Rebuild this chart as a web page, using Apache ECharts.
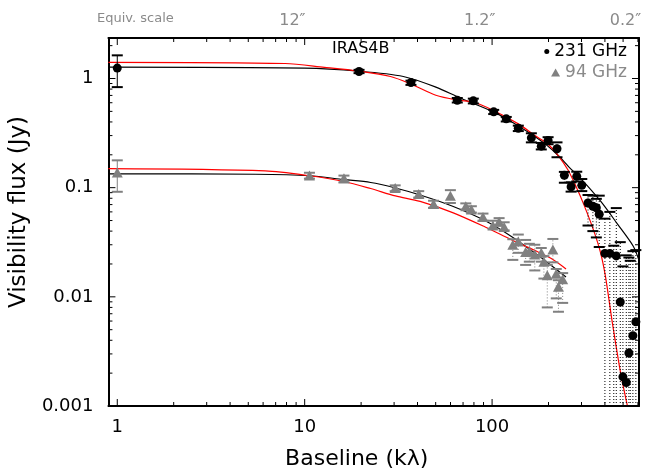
<!DOCTYPE html>
<html><head><meta charset="utf-8">
<script src="https://cdn.jsdelivr.net/npm/echarts@6/dist/echarts.min.js"></script>
<style>html,body{margin:0;padding:0;background:#fff}#c{width:650px;height:475px}</style>
</head><body><div id="c"></div>
<script>
// ---------------- data ----------------
// 231 GHz visibilities (kλ, Jy) with lower / upper error-bar ends (Jy)
const baseline231 = [1, 19.5, 36.9, 65.2, 79.4, 102, 119, 138, 162, 183, 199, 222, 243, 264, 283, 301, 325, 345, 360, 373, 400, 425, 446, 460, 483, 499, 520, 537, 546, 564, 585];
const flux231     = [1.245, 1.16, 0.918, 0.632, 0.624, 0.495, 0.427, 0.350, 0.286, 0.240, 0.271, 0.227, 0.130, 0.102, 0.127, 0.105, 0.0724, 0.0676, 0.0654, 0.0571, 0.0250, 0.0250, -0.005, 0.0237, 0.00897, 0.00185, 0.00164, 0.00306, -0.004, 0.00441, 0.0059];
const lo231       = [0.834, 1.12, 0.874, 0.603, 0.591, 0.4725, 0.404, 0.330, 0.260, 0.224, 0.250, 0.190, 0.111, 0.092, 0.114, 0.093, 0.045, 0.040, 0.035, 0.0286, -0.010, -0.010, -0.035, -0.015, -0.015, -0.015, -0.020, -0.015, -0.030, -0.020, -0.015];
const hi231       = [1.63, 1.20, 0.956, 0.663, 0.654, 0.516, 0.4445, 0.370, 0.315, 0.257, 0.290, 0.260, 0.1395, 0.112, 0.140, 0.120, 0.0857, 0.0845, 0.079, 0.0845, 0.052, 0.060, 0.0294, 0.065, 0.0317, 0.019, 0.024, 0.0229, 0.0214, 0.0262, 0.0268];

// 94 GHz visibilities
const baseline94 = [1, 10.6, 16.2, 30.4, 40.6, 48.7, 59.9, 72.4, 77.5, 89.4, 101, 109, 116, 129, 138, 151, 158, 169, 183, 189, 211, 197, 220, 238, 226];
const flux94     = [0.1376, 0.129, 0.122, 0.0994, 0.0874, 0.0709, 0.0845, 0.0676, 0.0632, 0.054, 0.045, 0.0488, 0.0436, 0.030, 0.0321, 0.0257, 0.0262, 0.0244, 0.0253, 0.021, 0.0271, 0.01576, 0.0163, 0.0145, 0.0124];
const lo94       = [0.0917, 0.121, 0.112, 0.0929, 0.0811, 0.0654, 0.0724, 0.0632, 0.0591, 0.0498, 0.0421, 0.045, 0.0406, 0.0218, 0.0253, 0.0196, 0.021, 0.01745, 0.021, 0.0147, 0.0207, 0.008, 0.00968, 0.0088, 0.0073];
const hi94       = [0.178, 0.137, 0.129, 0.105, 0.0929, 0.0759, 0.0949, 0.0718, 0.0676, 0.0579, 0.0498, 0.0526, 0.0482, 0.0337, 0.0372, 0.0332, 0.0306, 0.030, 0.028, 0.0236, 0.0339, 0.0196, 0.018, 0.0165, 0.0142];

// model curves (black = fit, red = model)
const fitBaseline231   = [0.897, 10, 19.48, 33.6, 50.1, 67.0, 103.7, 138.7, 168.4, 194.8, 225.3, 257.3, 297.6, 379.3, 466.0, 565.7, 608.4];
const fitFlux231       = [1.271, 1.245, 1.167, 1.043, 0.834, 0.667, 0.487, 0.366, 0.296, 0.2465, 0.197, 0.1545, 0.121, 0.0751, 0.0466, 0.0292, 0.0215];
const modelBaseline231 = [0.897, 7.85, 12.74, 19.48, 28.7, 37.0, 50.1, 65.4, 79.4, 102.4, 138.7, 168.4, 199.5, 225.3, 254.2, 280.2, 308.8, 348.5, 379.3, 403, 438.6, 483.4, 526.1];
const modelFlux231     = [1.407, 1.373, 1.266, 1.167, 1.043, 0.887, 0.702, 0.634, 0.609, 0.507, 0.382, 0.302, 0.249, 0.197, 0.1454, 0.1029, 0.0699, 0.0404, 0.0253, 0.01523, 0.00574, 0.00208, 0.00102];
const fitBaseline94    = [0.897, 5.46, 10.6, 16.2, 22.5, 30.5, 41.3, 61.6, 91.9, 127.4, 168.4, 207, 248];
const fitFlux94        = [0.134, 0.1327, 0.1286, 0.1186, 0.1116, 0.0994, 0.0857, 0.0676, 0.0498, 0.0356, 0.0253, 0.0194, 0.0152];
const modelBaseline94  = [0.897, 6.16, 10.6, 16.2, 22.5, 30.5, 41.3, 61.6, 91.9, 127.4, 168.4, 207, 248];
const modelFlux94      = [0.1492, 0.1424, 0.1286, 0.1139, 0.0982, 0.0840, 0.0748, 0.0591, 0.0436, 0.0332, 0.0267, 0.0224, 0.018];

// axes
const xRange = [0.897, 608];
const yRange = [0.001, 2.35];
const xTickValues = [1, 10, 100];
const xTickLabels = ['1', '10', '100'];
const yTickValues = [0.001, 0.01, 0.1, 1];
const yTickLabels = ['0.001', '0.01', '0.1', '1'];
const scaleTickBaselines = [8.6, 86, 515];
const scaleTickLabels = ['12″', '1.2″', '0.2″'];

// ---------------- chart ----------------
const L = Math.log10;
const FONT = 'DejaVu Sans';
const GRAY = '#8a8a8a';
const xMinL = L(xRange[0]), xMaxL = L(xRange[1]);
const yMinL = L(yRange[0]), yMaxL = L(yRange[1]);

function decadeTicks(lo, hi) {
  const out = [];
  for (let e = Math.floor(L(lo)); e <= Math.ceil(L(hi)); e++)
    for (let m = 1; m <= 9; m++) {
      const v = L(m) + e;
      if (v >= L(lo) - 1e-9 && v <= L(hi) + 1e-9) out.push({ v: v, major: m === 1 });
    }
  return out;
}
function nearest(arr, v) {
  let b = 0;
  arr.forEach((a, i) => { if (Math.abs(a - v) < Math.abs(arr[b] - v)) b = i; });
  return b;
}
const xMajor = xTickValues.map(L);
const yMajor = yTickValues.map(L);
const scaleMajor = scaleTickBaselines.map(L);

const lineBlack = { show: true, onZero: false, lineStyle: { color: '#000', width: 2 } };
const noTick = { show: false };
const xBase = { type: 'value', min: xMinL, max: xMaxL, splitLine: { show: false }, axisTick: noTick };
const yBase = { type: 'value', min: yMinL, max: yMaxL, splitLine: { show: false }, axisTick: noTick };

const xAxis = [
  Object.assign({}, xBase, {
    position: 'bottom', axisLine: lineBlack,
    name: 'Baseline (kλ)', nameLocation: 'middle', nameGap: 42,
    nameTextStyle: { fontFamily: FONT, fontSize: 22, color: '#000', padding: [0, 34, 0, 0] },
    axisLabel: { show: true, customValues: xMajor, margin: 12, fontFamily: FONT, fontSize: 18, color: '#000',
      formatter: v => xTickLabels[nearest(xMajor, v)] }
  }),
  Object.assign({}, xBase, {
    position: 'top', axisLine: lineBlack,
    axisLabel: { show: true, customValues: scaleMajor, margin: 9, fontFamily: FONT, fontSize: 16, color: GRAY,
      formatter: v => scaleTickLabels[nearest(scaleMajor, v)] }
  })
];
const yAxis = [
  Object.assign({}, yBase, {
    position: 'left', axisLine: lineBlack,
    name: 'Visibility flux (Jy)', nameLocation: 'middle', nameGap: 68, nameRotate: 90,
    nameTextStyle: { fontFamily: FONT, fontSize: 23, color: '#000', padding: [0, 0, 0, 20] },
    axisLabel: { show: true, customValues: yMajor, margin: 15, fontFamily: FONT, fontSize: 18, color: '#000',
      formatter: v => yTickLabels[nearest(yMajor, v)] }
  }),
  Object.assign({}, yBase, { position: 'right', axisLine: lineBlack, axisLabel: { show: false } })
];

// tick marks on all four sides of the frame, placed through the axes
const tickData = [];
decadeTicks(xRange[0], xRange[1]).forEach(t => tickData.push([t.v, yMinL, 0, t.major ? 1 : 0]));
decadeTicks(yRange[0], yRange[1]).forEach(t => tickData.push([xMinL, t.v, 1, t.major ? 1 : 0]));
const frameTicks = {
  type: 'custom', xAxisIndex: 0, yAxisIndex: 0, z: 6, silent: true,
  encode: { x: 0, y: 1 }, data: tickData,
  renderItem: function (params, api) {
    const isY = api.value(2) === 1, len = api.value(3) === 1 ? 7 : 4;
    const st = { stroke: '#000', lineWidth: 1 };
    if (!isY) {
      const pb = api.coord([api.value(0), yMinL]), pt = api.coord([api.value(0), yMaxL]);
      return { type: 'group', children: [
        { type: 'line', shape: { x1: pb[0], y1: pb[1], x2: pb[0], y2: pb[1] - len }, style: st },
        { type: 'line', shape: { x1: pt[0], y1: pt[1], x2: pt[0], y2: pt[1] + len }, style: st }
      ] };
    }
    const pl = api.coord([xMinL, api.value(1)]), pr = api.coord([xMaxL, api.value(1)]);
    return { type: 'group', children: [
      { type: 'line', shape: { x1: pl[0], y1: pl[1], x2: pl[0] + len, y2: pl[1] }, style: st },
      { type: 'line', shape: { x1: pr[0], y1: pr[1], x2: pr[0] - len, y2: pr[1] }, style: st }
    ] };
  }
};

function curve(B, F, color) {
  return {
    type: 'line', xAxisIndex: 0, yAxisIndex: 0, z: 2, silent: true,
    showSymbol: false, smooth: 0.3, clip: true,
    lineStyle: { color: color, width: 1.2 },
    data: B.map((b, i) => [L(b), L(F[i])])
  };
}
function errorBars(name, B, lo, hi, color) {
  return {
    type: 'custom', name: name, xAxisIndex: 0, yAxisIndex: 0, z: 3, silent: true,
    encode: { x: 0, y: 2 },
    data: B.map((b, i) => [L(b), lo[i] > 0 ? L(lo[i]) : -99, L(hi[i]), b <= 1 ? 1 : 0]),
    renderItem: function (params, api) {
      const x = api.value(0), yl = api.value(1), yh = api.value(2), solid = api.value(3) === 1;
      const p1 = api.coord([x, Math.max(yl, yMinL)]);
      const p2 = api.coord([x, Math.min(yh, yMaxL)]);
      const w = 5.5;
      const kids = [{
        type: 'line', shape: { x1: p1[0], y1: p1[1], x2: p2[0], y2: p2[1] },
        style: { stroke: color, lineWidth: 1, lineDash: solid ? null : [1, 2] }
      }];
      if (yh <= yMaxL) kids.push({ type: 'line', shape: { x1: p2[0] - w, y1: p2[1], x2: p2[0] + w, y2: p2[1] }, style: { stroke: color, lineWidth: 2 } });
      if (yl >= yMinL) kids.push({ type: 'line', shape: { x1: p1[0] - w, y1: p1[1], x2: p1[0] + w, y2: p1[1] }, style: { stroke: color, lineWidth: 2 } });
      return { type: 'group', children: kids };
    }
  };
}
function points(name, B, F, symbol, size, color) {
  const d = [];
  B.forEach((b, i) => { if (F[i] > 0) d.push([L(b), L(F[i])]); });
  return { type: 'scatter', name: name, xAxisIndex: 0, yAxisIndex: 0, z: 4, silent: true,
    symbol: symbol, symbolSize: size, itemStyle: { color: color, opacity: 1 }, data: d };
}

const chart = echarts.init(document.getElementById('c'), null, { renderer: 'canvas' });
chart.setOption({
  animation: false,
  backgroundColor: '#fff',
  grid: { left: 101, right: 11, top: 38, bottom: 56, containLabel: false },
  title: [
    { text: 'IRAS4B', left: 332, top: 41, padding: 0, textStyle: { fontFamily: FONT, fontSize: 16, fontWeight: 'normal', color: '#000' } },
    { text: 'Equiv. scale', left: 97, top: 12, padding: 0, textStyle: { fontFamily: FONT, fontSize: 13, fontWeight: 'normal', color: GRAY } }
  ],
  legend: [
    { orient: 'vertical', right: 23, top: 43, align: 'left', itemWidth: 5, itemHeight: 5,
      selectedMode: false, padding: 0, textStyle: { fontFamily: FONT, fontSize: 17, color: '#000' },
      data: [{ name: '231 GHz', icon: 'circle' }] },
    { orient: 'vertical', right: 23, top: 64, align: 'left', itemWidth: 9, itemHeight: 8,
      selectedMode: false, padding: 0, textStyle: { fontFamily: FONT, fontSize: 17, color: GRAY },
      data: [{ name: '94 GHz', icon: 'triangle' }] }
  ],
  xAxis: xAxis,
  yAxis: yAxis,
  series: [
    curve(fitBaseline231, fitFlux231, '#000'),
    curve(modelBaseline231, modelFlux231, '#ff0000'),
    curve(fitBaseline94, fitFlux94, '#000'),
    curve(modelBaseline94, modelFlux94, '#ff0000'),
    errorBars('231 GHz err', baseline231, lo231, hi231, '#000'),
    errorBars('94 GHz err', baseline94, lo94, hi94, '#808080'),
    points('231 GHz', baseline231, flux231, 'circle', 9, '#000'),
    points('94 GHz', baseline94, flux94, 'triangle', [11, 10], '#808080'),
    frameTicks
  ]
});
</script>
</body></html>
